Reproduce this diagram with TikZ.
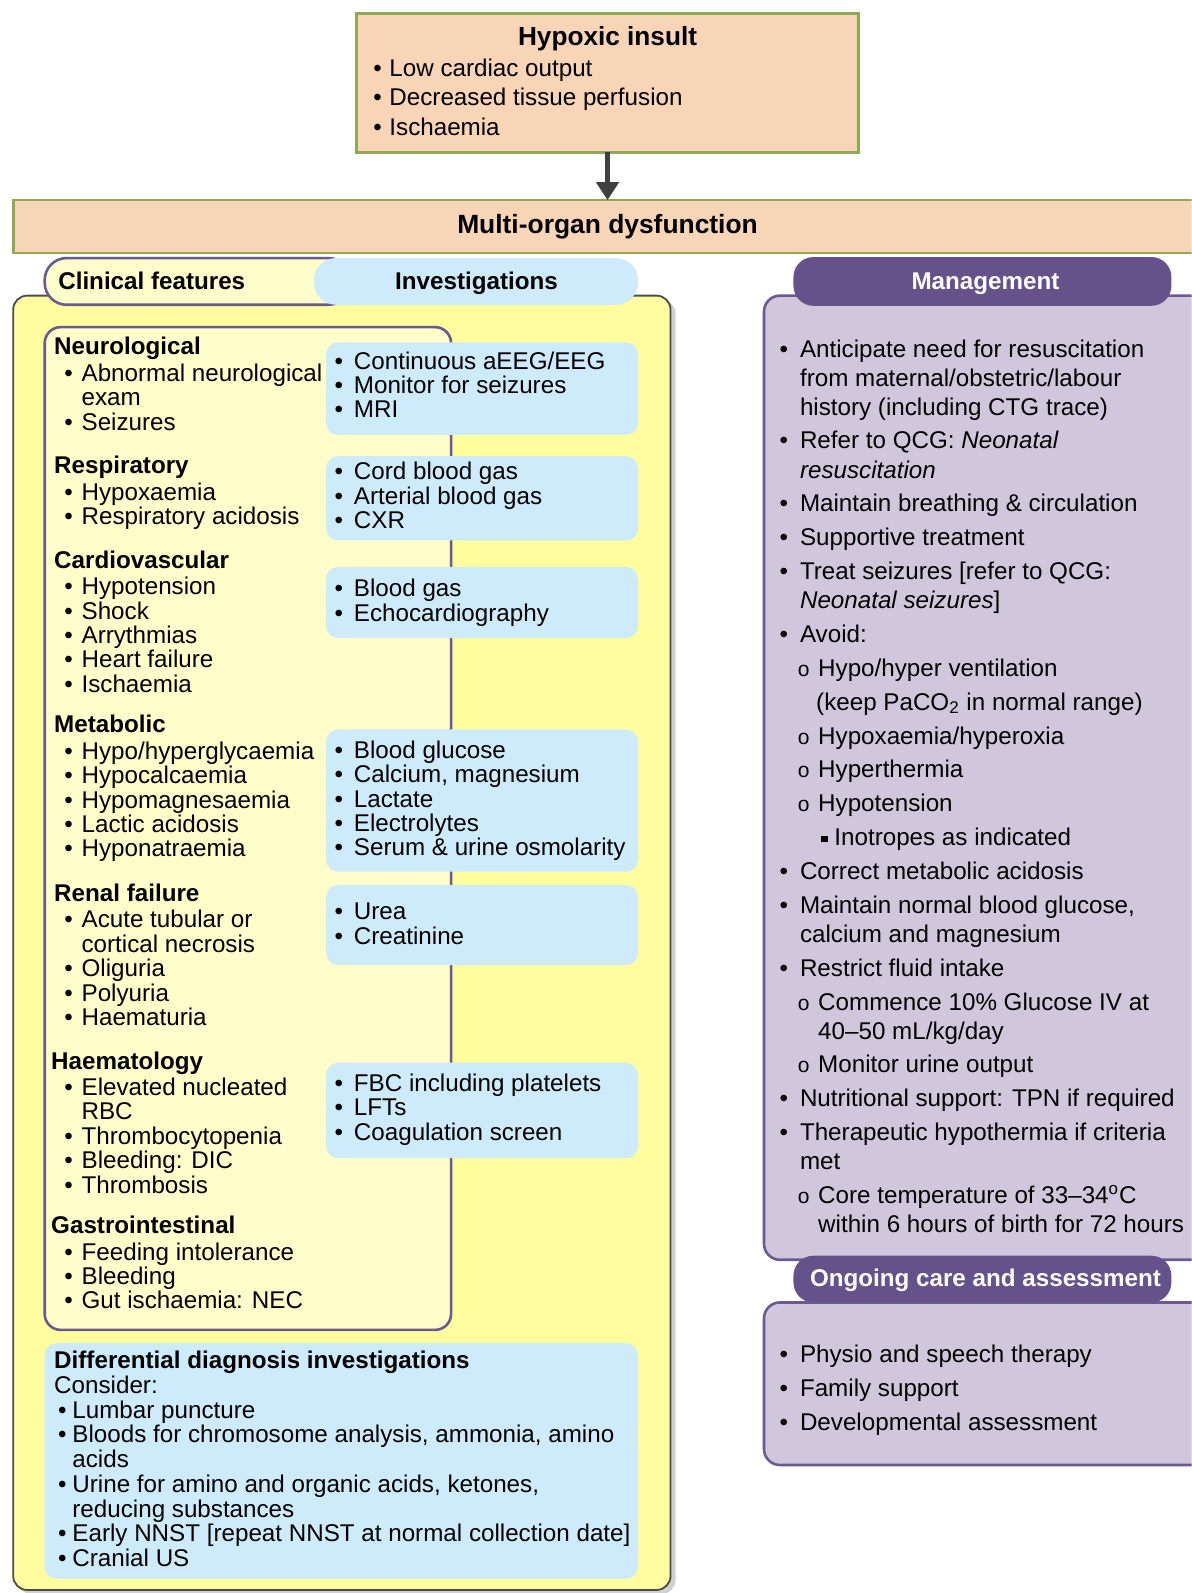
\documentclass[tikz,border=0pt]{standalone}
\usepackage{fontspec}
\setmainfont{Liberation Sans}
\usetikzlibrary{arrows.meta}
\definecolor{peach}{HTML}{F8D5B7}
\definecolor{olivebd}{HTML}{8FAA55}
\definecolor{ylw}{HTML}{FFFD9E}
\definecolor{paleylw}{HTML}{FFFDCA}
\definecolor{ltblue}{HTML}{CDEBFB}
\definecolor{purp}{HTML}{65528A}
\definecolor{lav}{HTML}{D0C7DD}
\definecolor{purpbd}{HTML}{6A5A92}
\definecolor{darkbd}{HTML}{4A4A4A}
\newcommand\fs{\fontsize{12.1}{12.2}\selectfont}
\newcommand\mfs{\fontsize{12.1}{14.53}\selectfont}
\newcommand\hfs{\fontsize{12.1}{14.7}\selectfont}
\newcommand\dfs{\fontsize{12.1}{12.35}\selectfont}
\newcommand\st{\rule{0pt}{10pt}}
\newcommand\bb[1]{\makebox[#1][l]{\textbullet}}
\newcommand\lb{\hspace*{5.1pt}\bb{8.6pt}}
\newcommand\lc{\hspace*{13.7pt}}
\newcommand\ib{\bb{9.65pt}}
\newcommand\mb{\bb{10.2pt}}
\newcommand\mc{\hspace*{10.2pt}}
\newcommand\mo{\hspace*{9.1pt}\makebox[10.2pt][l]{{\fontsize{10.5}{0}\selectfont o}}}
\newcommand\moc{\hspace*{19.3pt}}
\newcommand\msq{\hspace*{20.8pt}\makebox[6.6pt][l]{\rule[1.6pt]{3.2pt}{3.2pt}}}
\newcommand\gap{\\[2.4pt]}
\begin{document}
\begin{tikzpicture}[x=0.5081pt,y=-0.5081pt,
  txt/.style={inner sep=0pt, anchor=north west, yshift=10pt, align=left, font=\fs},
  peachbox/.style={draw=olivebd, fill=peach, line width=1.3pt},
  bigyellow/.style={draw=darkbd, fill=ylw, line width=0.9pt, rounded corners=7pt},
  clinbox/.style={draw=purpbd, fill=paleylw, line width=1.3pt, rounded corners=8pt},
  bluebox/.style={fill=ltblue, rounded corners=6pt},
  lavbox/.style={draw=purpbd, fill=lav, line width=1.3pt, rounded corners=8pt},
  purptab/.style={fill=purp, rounded corners=10pt},
  tabtext/.style={inner sep=0pt, anchor=base, font=\fontsize{12.1}{14}\selectfont\bfseries},
  arr/.style={draw=black!75, line width=2.2pt, -{Triangle[length=9pt,width=11pt]}}
]
\clip (0,0) rectangle (1173,1568);
\fill[white] (0,0) rectangle (1173,1568);

% top boxes
\draw[peachbox] (351,13) rectangle (845,150);
\coordinate (hypS) at (598,150);
\node[tabtext, font=\fontsize{13.1}{15}\selectfont\bfseries] (hyptitle) at (598,45) {Hypoxic insult};
\node[txt, font=\hfs] (hyplist) at (367,75) {\st\bb{8.1pt}Low cardiac output\\
\bb{8.1pt}Decreased tissue perfusion\\
\bb{8.1pt}Ischaemia};
\draw[peachbox] (13,197) rectangle (1200,249);
\coordinate (multiN) at (598,197);
\node[tabtext, font=\fontsize{13.2}{15}\selectfont\bfseries] (multi) at (598,230) {Multi-organ dysfunction};
\draw[arr] (hypS) -- (multiN);

% left panel
\fill[black!18, rounded corners=7pt] (17,295) rectangle (665,1569);
\draw[bigyellow] (13,291) rectangle (660,1565);
\draw[draw=purpbd, fill=paleylw, line width=1.3pt, rounded corners=11pt] (44,254) rectangle (345,300);
\fill[ltblue, rounded corners=11pt] (309,254) rectangle (628,300);
\node[tabtext, anchor=base west] (clintab) at (57,285) {Clinical features};
\node[tabtext] (invtab) at (469,285) {Investigations};

\draw[clinbox] (44,322) rectangle (444,1309);

\fill[bluebox] (321,337) rectangle (628,428);
\fill[bluebox] (321,449) rectangle (628,532);
\fill[bluebox] (321,558) rectangle (628,628);
\fill[bluebox] (321,718) rectangle (628,858);
\fill[bluebox] (321,871) rectangle (628,950);
\fill[bluebox] (321,1046) rectangle (628,1140);
\fill[bluebox] (44,1322) rectangle (628,1554);

% clinical features
\node[txt] (neuro) at (53,349) {\st\textbf{Neurological}\\[1pt]
\lb Abnormal neurological\\ \lc exam\\ \lb Seizures};
\node[txt] (resp) at (53,466) {\st\textbf{Respiratory}\\[1pt]
\lb Hypoxaemia\\ \lb Respiratory acidosis};
\node[txt] (cardio) at (53,559) {\st\textbf{Cardiovascular}\\[1pt]
\lb Hypotension\\ \lb Shock\\ \lb Arrythmias\\ \lb Heart failure\\ \lb Ischaemia};
\node[txt] (metab) at (53,721) {\st\textbf{Metabolic}\\[1pt]
\lb Hypo/hyperglycaemia\\ \lb Hypocalcaemia\\ \lb Hypomagnesaemia\\ \lb Lactic acidosis\\ \lb Hyponatraemia};
\node[txt] (renal) at (53,887) {\st\textbf{Renal failure}\\[1pt]
\lb Acute tubular or\\ \lc cortical necrosis\\ \lb Oliguria\\ \lb Polyuria\\ \lb Haematuria};
\node[txt] (haem) at (53,1052) {\st\hspace*{-1.5pt}\textbf{Haematology}\\[1pt]
\lb Elevated nucleated\\ \lc RBC\\ \lb Thrombocytopenia\\ \lb Bleeding: DIC\\ \lb Thrombosis};
\node[txt] (gi) at (53,1214) {\st\hspace*{-1.5pt}\textbf{Gastrointestinal}\\[1pt]
\lb Feeding intolerance\\ \lb Bleeding\\ \lb Gut ischaemia: NEC};

% investigations
\node[txt] (inv1) at (329,363) {\st\ib Continuous aEEG/EEG\\ \ib Monitor for seizures\\ \ib MRI};
\node[txt] (inv2) at (329,472) {\st\ib Cord blood gas\\ \ib Arterial blood gas\\ \ib CXR};
\node[txt] (inv3) at (329,587) {\st\ib Blood gas\\ \ib Echocardiography};
\node[txt] (inv4) at (329,746) {\st\ib Blood glucose\\ \ib Calcium, magnesium\\ \ib Lactate\\ \ib Electrolytes\\ \ib Serum \& urine osmolarity};
\node[txt] (inv5) at (329,905) {\st\ib Urea\\ \ib Creatinine};
\node[txt] (inv6) at (329,1074) {\st\ib FBC including platelets\\ \ib LFTs\\ \ib Coagulation screen};

% differential
\node[txt, font=\dfs] (diff) at (53,1347) {\st\textbf{Differential diagnosis investigations}\\
Consider:\\
\hspace*{2pt}\bb{7.1pt}Lumbar puncture\\
\hspace*{2pt}\bb{7.1pt}Bloods for chromosome analysis, ammonia, amino\\
\hspace*{9.1pt}acids\\
\hspace*{2pt}\bb{7.1pt}Urine for amino and organic acids, ketones,\\
\hspace*{9.1pt}reducing substances\\
\hspace*{2pt}\bb{7.1pt}Early NNST [repeat NNST at normal collection date]\\
\hspace*{2pt}\bb{7.1pt}Cranial US};

% management
\draw[lavbox] (752,291) rectangle (1200,1240);
\fill[purptab] (781,253) rectangle (1153,301);
\node[tabtext, text=white] (mgmttab) at (970,285) {Management};
\node[txt, font=\mfs] (mgmt) at (767,351) {%
\st\mb Anticipate need for resuscitation\\
\mc from maternal/obstetric/labour\\
\mc history (including CTG trace)\gap
\mb Refer to QCG: \textit{Neonatal}\\
\mc \textit{resuscitation}\gap
\mb Maintain breathing \& circulation\gap
\mb Supportive treatment\gap
\mb Treat seizures [refer to QCG:\\
\mc \textit{Neonatal seizures}]\gap
\mb Avoid:\gap
\mo Hypo/hyper ventilation\gap
\hspace*{18.3pt}(keep PaCO\textsubscript{2} in normal range)\gap
\mo Hypoxaemia/hyperoxia\gap
\mo Hyperthermia\gap
\mo Hypotension\gap
\msq Inotropes as indicated\gap
\mb Correct metabolic acidosis\gap
\mb Maintain normal blood glucose,\\
\mc calcium and magnesium\gap
\mb Restrict fluid intake\gap
\mo Commence 10\% Glucose IV at\\
\moc 40--50 mL/kg/day\gap
\mo Monitor urine output\gap
\mb Nutritional support: TPN if required\gap
\mb Therapeutic hypothermia if criteria\\
\mc met\gap
\mo Core temperature of 33--34\textsuperscript{o}C\\
\moc within 6 hours of birth for 72 hours};

\draw[lavbox] (752,1282) rectangle (1200,1442);
\fill[purptab] (781,1236) rectangle (1153,1282);
\node[tabtext, text=white] (ongoingtab) at (970,1266) {Ongoing care and assessment};
\node[txt, font=\mfs] (ongoing) at (767,1341) {\st\mb Physio and speech therapy\\[2.5pt]
\mb Family support\\[2.5pt]
\mb Developmental assessment};
\end{tikzpicture}
\end{document}
